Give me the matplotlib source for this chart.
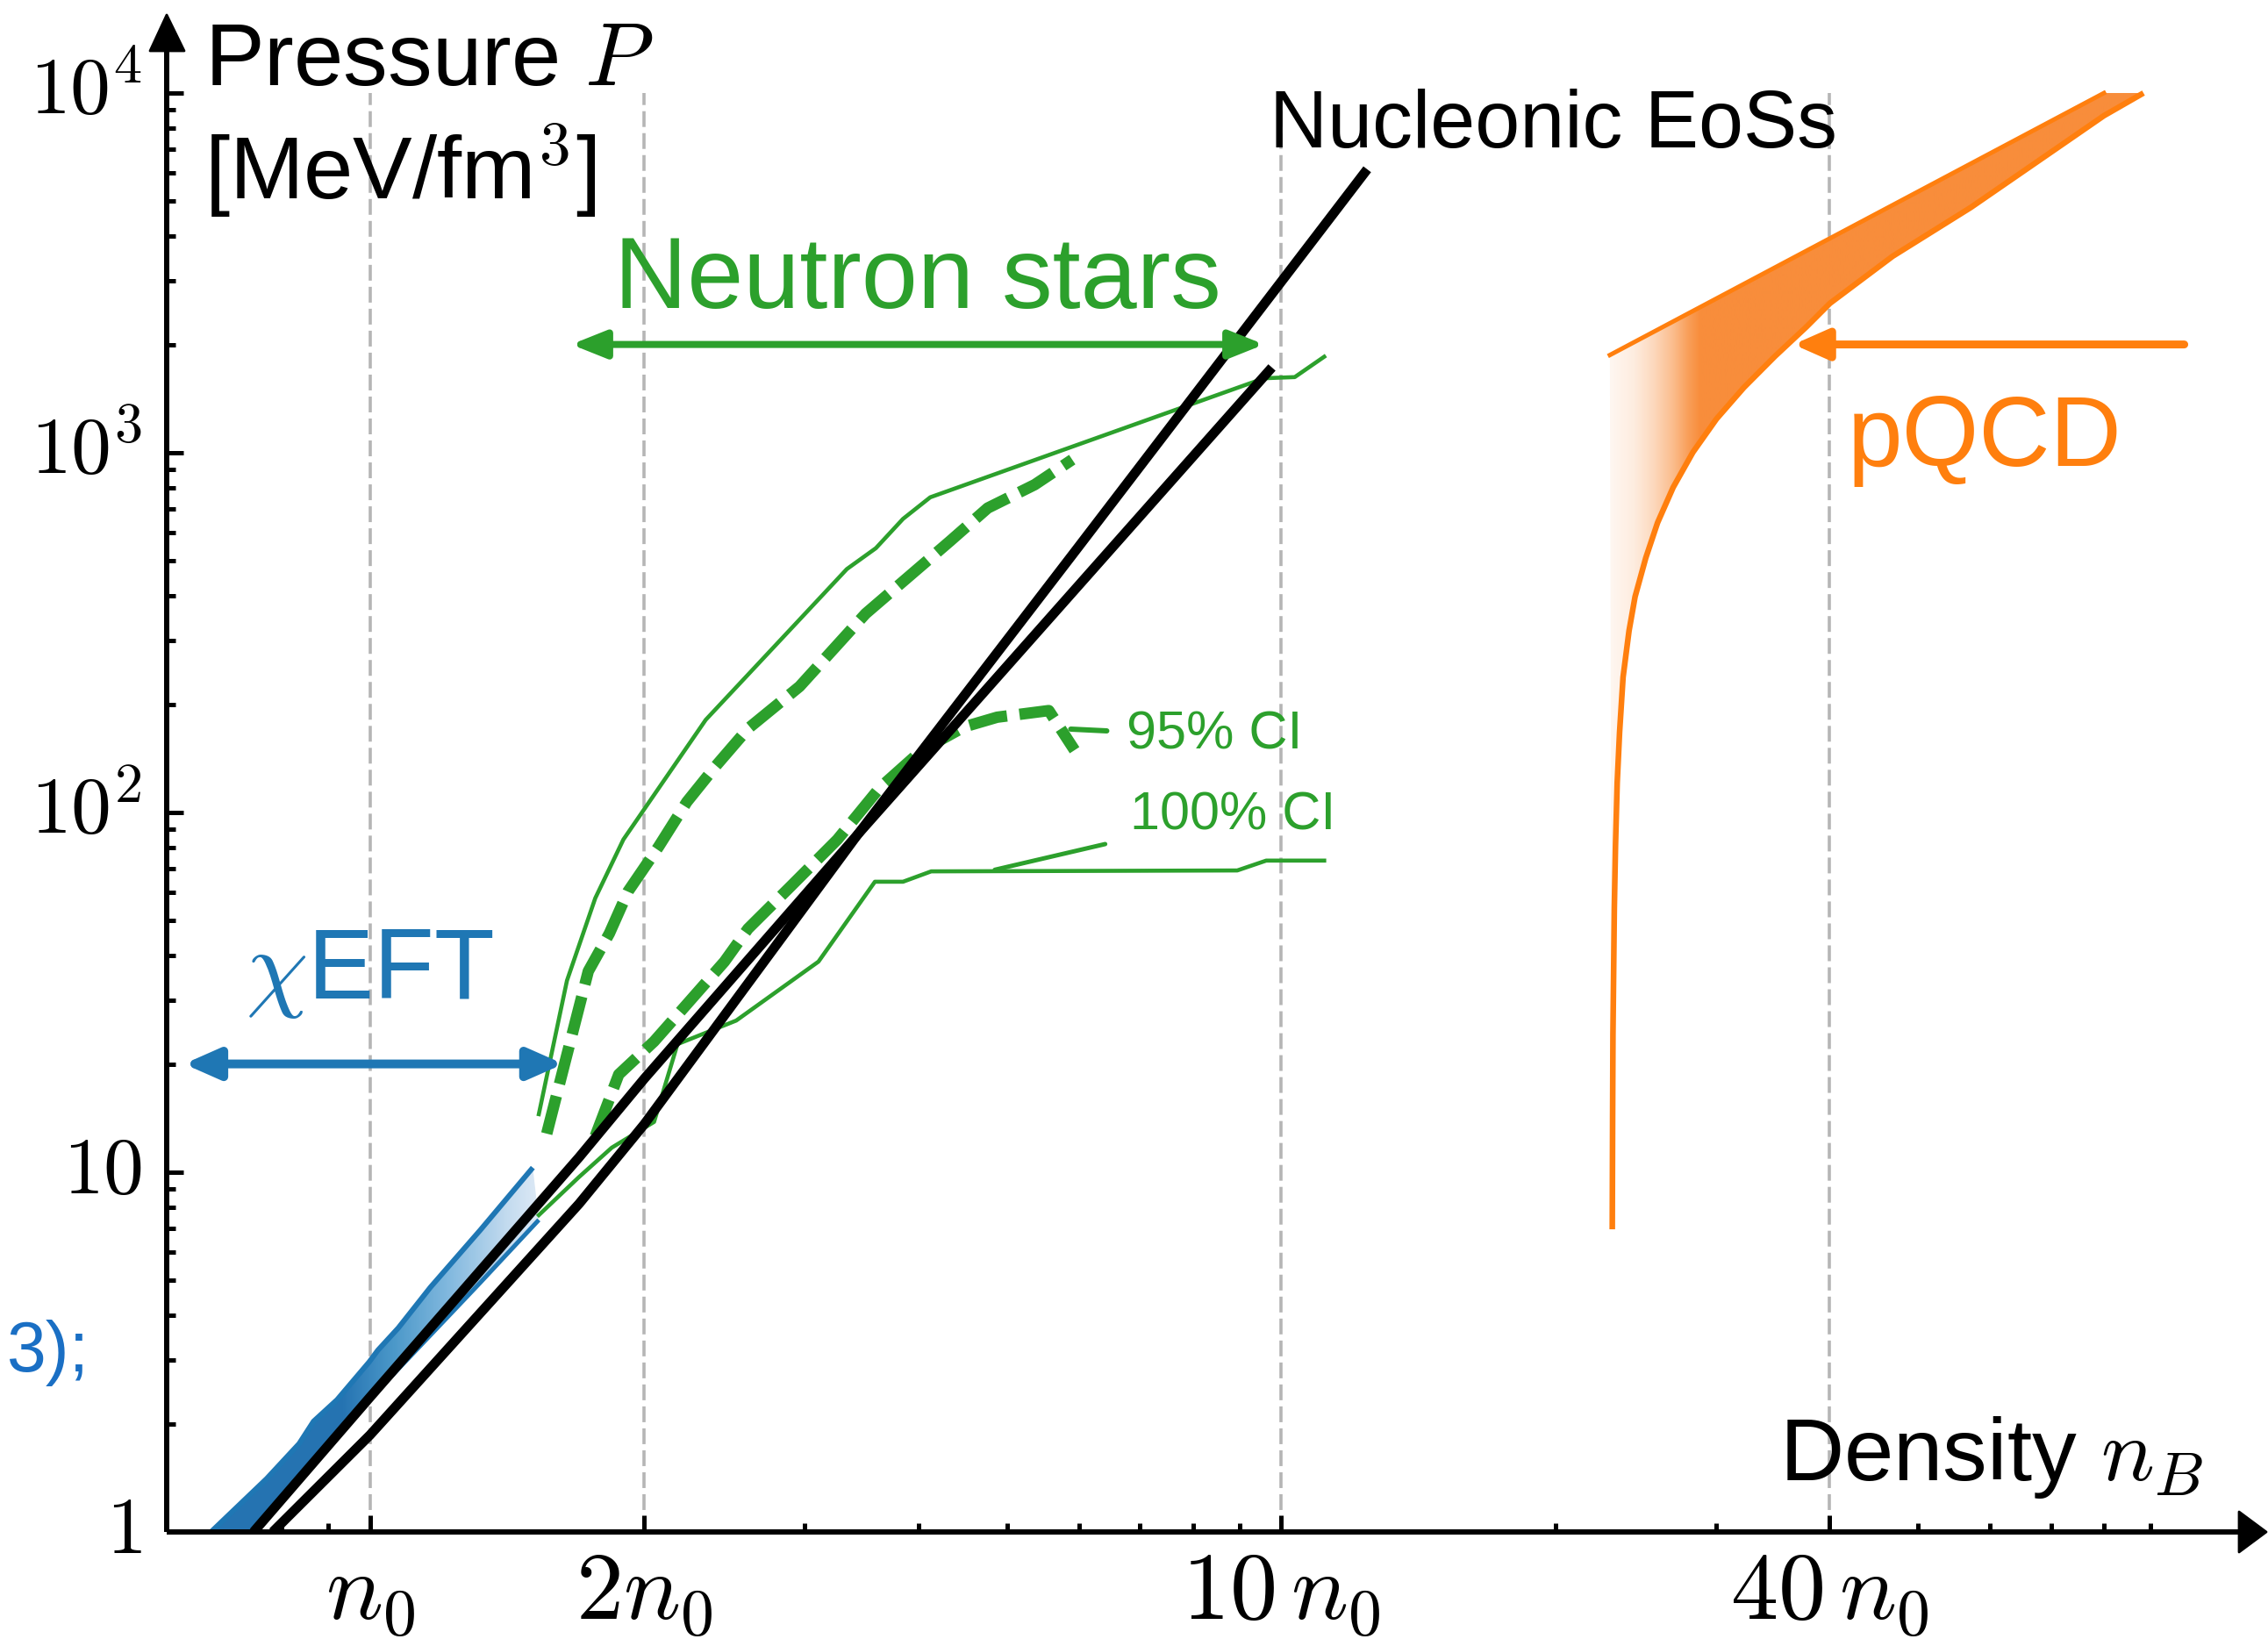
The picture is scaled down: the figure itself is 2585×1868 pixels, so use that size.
import numpy as np
import matplotlib
matplotlib.use("Agg")
import matplotlib.pyplot as plt
from matplotlib.patches import Polygon
from matplotlib.ticker import FixedLocator, NullFormatter

plt.rcParams['font.family'] = ['Liberation Sans', 'DejaVu Sans']
plt.rcParams['mathtext.fontset'] = 'cm'

# ---------------- data (density in units of n0, pressure in MeV/fm^3) ----------------
x_major = [1, 2, 10, 40]
x_major_labels = [r'$n_0$', r'$2n_0$', r'$10\,n_0$', r'$40\,n_0$']
x_minor = [0.7, 0.8, 0.9, 3, 4, 5, 6, 7, 8, 9, 20, 30, 50, 60, 70, 80, 90]
y_major = [1, 10, 100, 1000, 10000]
y_major_labels = [r'$1$', r'$10$', r'$10^2$', r'$10^3$', r'$10^4$']
y_minor = [m * 10 ** k for k in range(4) for m in range(2, 10)]
ref_densities = [1, 2, 10, 40]

# nucleonic EoSs (two black curves)
nuc1_n = [0.745, 1.0, 1.696, 2.0, 3.43, 9.77]
nuc1_p = [1.0, 2.37, 11.0, 18.2, 86.9, 1726]
nuc2_n = [0.782, 1.0, 1.696, 2.0, 3.43, 6.0, 12.43]
nuc2_p = [1.0, 1.86, 8.17, 13.6, 86.9, 550, 6138]

# chiEFT band
eft_up_n = [0.669, 0.770, 0.836, 0.867, 0.920, 0.998, 1.02, 1.074, 1.165, 1.321, 1.509]
eft_up_p = [1.0, 1.406, 1.76, 2.03, 2.33, 2.97, 3.20, 3.69, 4.79, 6.90, 10.3]
eft_lo_n = [0.737, 0.983, 1.321, 1.532]
eft_lo_p = [1.0, 2.24, 4.93, 7.37]

# neutron-star credible intervals
ns100_up_n = [1.532, 1.645, 1.767, 1.897, 2.336, 3.337, 3.591, 3.846, 4.12, 9.58, 10.35, 11.15]
ns100_up_p = [14.5, 34.1, 57.8, 84.1, 181, 475, 543, 655, 752, 1611, 1623, 1849]
ns95_up_n = [1.563, 1.736, 1.831, 1.920, 2.074, 2.227, 2.392, 2.599, 2.961, 3.499, 4.331, 4.764, 5.364, 5.898]
ns95_up_p = [12.8, 36.2, 46.1, 60.4, 80.4, 107, 134, 171, 224, 357, 568, 702, 815, 957]
ns95_lo_n = [1.767, 1.875, 2.05, 2.227, 2.449, 2.599, 2.893, 3.258, 3.625, 4.034, 4.489, 4.878, 5.559, 5.933]
ns95_lo_p = [12.6, 18.7, 23.1, 29.3, 38.5, 47.5, 62.2, 84.1, 117, 149, 173, 184, 192, 149]
ns100_lo_n = [1.532, 1.696, 1.842, 2.05, 2.175, 2.523, 3.106, 3.582, 3.846, 4.13, 8.95, 9.63, 11.15]
ns100_lo_p = [7.6, 9.7, 11.7, 13.8, 22.7, 26.4, 38.5, 64.2, 64.2, 68.6, 69.0, 73.5, 73.5]
lab95_n = [5.876, 6.436]
lab95_p = [170.5, 168.6]
lab100_n = [4.85, 6.41]
lab100_p = [69.3, 81.7]

# pQCD band
pqcd_up_n = [22.95, 80.0, 88.4]
pqcd_up_p = [1869, 10000, 10000]
pqcd_lo_n = [88.4, 80.0, 69.66, 57.15, 46.90, 40.03, 37.72, 34.84, 32.20, 30.05, 28.31,
             26.93, 25.89, 25.13, 24.46, 24.09, 23.73, 23.52, 23.38, 23.28, 23.21,
             23.17, 23.13, 23.11, 23.09]
pqcd_lo_p = [10000, 8650, 6792, 4808, 3517, 2603, 2239, 1855, 1518, 1242, 1003,
             801, 639, 510, 398, 320, 238, 167, 121, 81.1, 54.2,
             36.2, 24.2, 14.2, 6.94]

# range arrows
eft_arrow_n = [0.625, 1.63]
eft_arrow_p = 20
ns_arrow_n = [1.663, 9.58]
ns_arrow_p = 2000
pqcd_arrow_n = [98.0, 36.5]
pqcd_arrow_p = 2000

# ---------------- styling ----------------
GREEN = '#2ca02c'
BLUE = '#1f77b4'
ORANGE = '#ff7f0e'
W, H, DPI = 2585, 1868, 100

def px2pt(px):
    return px * 72.0 / DPI

fig = plt.figure(figsize=(W / DPI, H / DPI), dpi=DPI)
AX_L, AX_R, AX_T, AX_B = 190, 2555, 40, 1746
ax = fig.add_axes([AX_L / W, 1 - AX_B / H, (AX_R - AX_L) / W, (AX_B - AX_T) / H])
ax.set_xscale('log')
ax.set_yscale('log')
XMIN, XMAX = 0.5982, 113.3
YMIN, YMAX = 1.0, 14488
ax.set_xlim(XMIN, XMAX)
ax.set_ylim(YMIN, YMAX)
ax.set_autoscale_on(False)
lx0, lx1 = np.log10(XMIN), np.log10(XMAX)
ly0, ly1 = np.log10(YMIN), np.log10(YMAX)

for s in ['top', 'right']:
    ax.spines[s].set_visible(False)
for s in ['left', 'bottom']:
    ax.spines[s].set_linewidth(px2pt(6))
    ax.spines[s].set_capstyle('butt')

ax.xaxis.set_major_locator(FixedLocator(x_major))
ax.xaxis.set_minor_locator(FixedLocator(x_minor))
ax.yaxis.set_major_locator(FixedLocator(y_major))
ax.yaxis.set_minor_locator(FixedLocator(y_minor))
ax.xaxis.set_major_formatter(NullFormatter())
ax.xaxis.set_minor_formatter(NullFormatter())
ax.yaxis.set_major_formatter(NullFormatter())
ax.yaxis.set_minor_formatter(NullFormatter())
ax.tick_params(which='major', direction='in', length=px2pt(19), width=px2pt(5), color='black')
ax.tick_params(which='minor', direction='in', length=px2pt(10), width=px2pt(5), color='black')

# tick labels (baseline aligned, computer modern)
for v, s in zip(x_major, x_major_labels):
    ax.annotate(s, xy=(v, 0), xycoords=('data', 'axes fraction'),
                xytext=(0, -px2pt(101)), textcoords='offset points',
                ha='center', va='baseline', fontsize=78, annotation_clip=False)
for v, s in zip(y_major, y_major_labels):
    ax.annotate(s, xy=(0, v), xycoords=('axes fraction', 'data'),
                xytext=(-px2pt(28), -px2pt(24)), textcoords='offset points',
                ha='right', va='baseline', fontsize=66, annotation_clip=False)

# reference density lines
ax.vlines(ref_densities, 1, 1e4, colors='#b5b5b5', lw=px2pt(3.6),
          linestyles=[(0, (5.0, 1.95))], zorder=1)


def gradient_band(poly_n, poly_p, stops_logn, stops_rgba, zorder):
    cols = 800
    fa = (min(np.log10(poly_n)) - lx0) / (lx1 - lx0) - 0.002
    fb = (max(np.log10(poly_n)) - lx0) / (lx1 - lx0) + 0.002
    fy0 = (min(np.log10(poly_p)) - ly0) / (ly1 - ly0) - 0.002
    fy1 = (max(np.log10(poly_p)) - ly0) / (ly1 - ly0) + 0.002
    fr = np.linspace(fa, fb, cols)
    ln = lx0 + fr * (lx1 - lx0)
    stops_rgba = np.array(stops_rgba)
    img = np.zeros((2, cols, 4))
    for c in range(4):
        img[:, :, c] = np.interp(ln, stops_logn, stops_rgba[:, c])[None, :]
    im = ax.imshow(img, extent=[fa, fb, fy0, fy1], transform=ax.transAxes,
                   aspect='auto', interpolation='bilinear', origin='lower', zorder=zorder)
    poly = Polygon(np.column_stack([poly_n, poly_p]), closed=True,
                   facecolor='none', edgecolor='none', transform=ax.transData)
    ax.add_patch(poly)
    im.set_clip_path(poly)


def hexa(h, a=1.0):
    h = h.lstrip('#')
    return [int(h[i:i + 2], 16) / 255 for i in (0, 2, 4)] + [a]

# chiEFT band with gradient
eft_poly_n = eft_up_n + eft_lo_n[::-1]
eft_poly_p = eft_up_p + eft_lo_p[::-1]
gradient_band(eft_poly_n, eft_poly_p,
              [-0.30, -0.03, 0.025, 0.09, 0.15, 0.19],
              [hexa('#2573b1'), hexa('#2674b2'), hexa('#4b98c9'), hexa('#86bbe0'),
               hexa('#c3dbef'), hexa('#e2ecf7')], zorder=2)
ax.plot(eft_up_n, eft_up_p, color=BLUE, lw=px2pt(6), zorder=2.5, solid_capstyle='butt')
ax.plot(eft_lo_n, eft_lo_p, color=BLUE, lw=px2pt(5), zorder=2.5, solid_capstyle='butt')

# pQCD band with gradient
pq_poly_n = pqcd_up_n + pqcd_lo_n
pq_poly_p = pqcd_up_p + pqcd_lo_p
pq_fill = np.array([248, 141, 59]) / 255


def blend(a):
    c = 1 - a * (1 - pq_fill)
    return list(c) + [1.0]

gradient_band(pq_poly_n, pq_poly_p,
              [1.355, 1.3607, 1.387, 1.408, 1.43, 1.447, 1.46, 2.1],
              [blend(0.06), blend(0.07), blend(0.16), blend(0.33), blend(0.58),
               blend(0.85), blend(1.0), blend(1.0)], zorder=2)
ax.plot(pqcd_up_n[:2], pqcd_up_p[:2], color=ORANGE, lw=px2pt(5), zorder=2.5)
ax.plot(pqcd_lo_n, pqcd_lo_p, color=ORANGE, lw=px2pt(6.5), zorder=2.5,
        solid_capstyle='butt', solid_joinstyle='round')

# neutron-star bands
thin = px2pt(4.6)
ax.plot(ns100_up_n, ns100_up_p, color=GREEN, lw=thin, zorder=3)
ax.plot(ns100_lo_n, ns100_lo_p, color=GREEN, lw=thin, zorder=3)
dash_lw = px2pt(13)
ax.plot(ns95_up_n, ns95_up_p, color=GREEN, lw=dash_lw, zorder=3,
        linestyle=(0, (3.4, 1.1)), dash_capstyle='butt')
ax.plot(ns95_lo_n, ns95_lo_p, color=GREEN, lw=dash_lw, zorder=3,
        linestyle=(0, (3.4, 1.1)), dash_capstyle='butt')
ax.plot(lab95_n, lab95_p, color=GREEN, lw=px2pt(6), zorder=3, solid_capstyle='round')
ax.plot(lab100_n, lab100_p, color=GREEN, lw=px2pt(5), zorder=3, solid_capstyle='round')

# nucleonic EoSs
ax.plot(nuc1_n, nuc1_p, color='black', lw=px2pt(11), zorder=4, solid_capstyle='butt')
ax.plot(nuc2_n, nuc2_p, color='black', lw=px2pt(11), zorder=4, solid_capstyle='butt')

# range arrows
ax.annotate('', xy=(eft_arrow_n[1], eft_arrow_p), xytext=(eft_arrow_n[0], eft_arrow_p),
            arrowprops=dict(arrowstyle='<|-|>,head_length=0.95,head_width=0.42',
                            mutation_scale=25, lw=px2pt(10), color=BLUE,
                            shrinkA=0, shrinkB=0, joinstyle='round', capstyle='round'),
            zorder=5)
ax.annotate('', xy=(ns_arrow_n[1], ns_arrow_p), xytext=(ns_arrow_n[0], ns_arrow_p),
            arrowprops=dict(arrowstyle='<|-|>,head_length=0.95,head_width=0.38',
                            mutation_scale=25, lw=px2pt(8), color=GREEN,
                            shrinkA=0, shrinkB=0, joinstyle='round', capstyle='round'),
            zorder=5)
ax.annotate('', xy=(pqcd_arrow_n[1], pqcd_arrow_p), xytext=(pqcd_arrow_n[0], pqcd_arrow_p),
            arrowprops=dict(arrowstyle='-|>,head_length=0.95,head_width=0.42',
                            mutation_scale=25, lw=px2pt(9), color=ORANGE,
                            shrinkA=0, shrinkB=0, joinstyle='round', capstyle='round'),
            zorder=5)

# axis arrow heads
def fig_poly(pts, **kw):
    p = Polygon([(x / W, 1 - y / H) for x, y in pts], closed=True,
                transform=fig.transFigure, **kw)
    fig.add_artist(p)

fig_poly([(190, 17), (171, 58), (210, 58)], facecolor='black', edgecolor='black',
         lw=2, joinstyle='round')
fig_poly([(2583, 1746), (2552, 1723), (2552, 1769)], facecolor='black', edgecolor='black',
         lw=2, joinstyle='round')


# annotation texts (placed in figure pixel space: left, baseline)
def ftext(x, y, s, size, color='black', **kw):
    fig.text(x / W, 1 - y / H, s, fontsize=size, color=color, ha='left', va='baseline', **kw)

ftext(233, 97, r'Pressure $P$', 73)
ftext(233, 227, r'[MeV/fm$^3$]', 73)
ftext(2028, 1687, r'Density $n_B$', 73)
ftext(1447, 168, 'Nucleonic EoSs', 66)
ftext(700, 351, 'Neutron stars', 83, GREEN)
ftext(280, 1138, r'$\chi$EFT', 81, BLUE)
ftext(2106, 531, 'pQCD', 81, ORANGE)
ftext(1284, 854, '95% CI', 44, GREEN)
ftext(1288, 945, '100% CI', 44, GREEN)
ftext(8, 1563, '3);', 58, '#1a6fc4')

fig.savefig('out.png', dpi=DPI)
